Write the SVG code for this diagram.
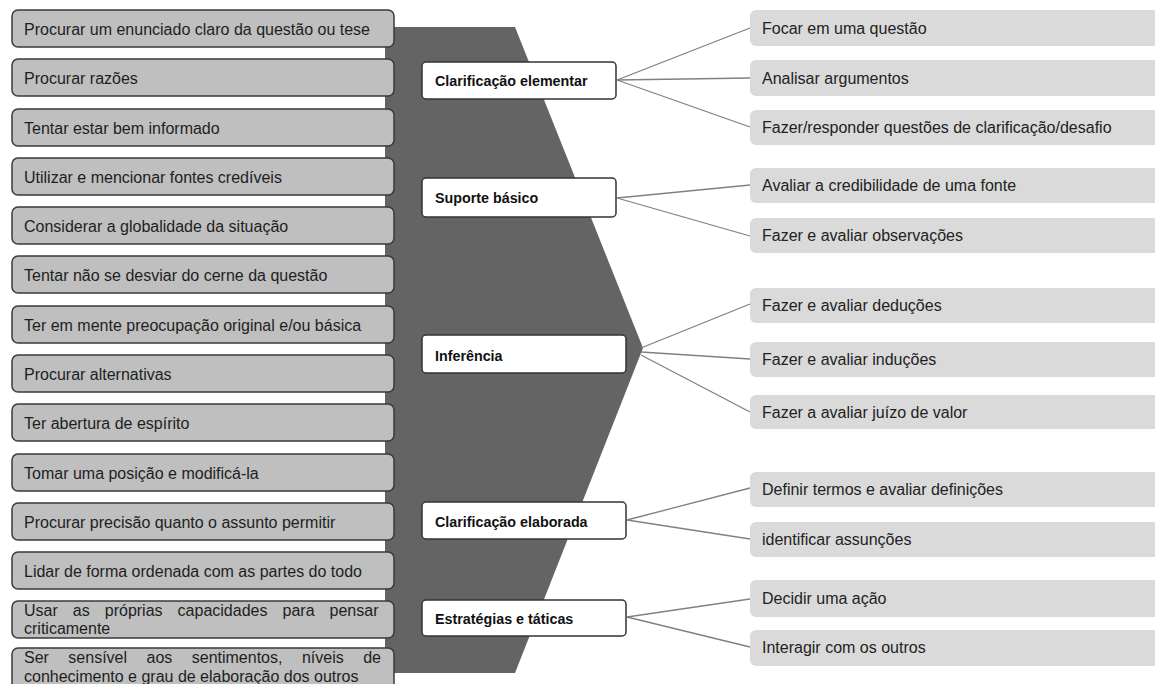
<svg xmlns="http://www.w3.org/2000/svg" width="1155" height="684" viewBox="0 0 1155 684">
<style>
.lb{fill:#bfbfbf;stroke:#3a3a3a;stroke-width:1.5}
.lt{font-family:"Liberation Sans",Arial,sans-serif;font-size:16px;fill:#1e1e1e}
.mb{fill:#ffffff;stroke:#333333;stroke-width:1.5}
.mt{font-family:"Liberation Sans",Arial,sans-serif;font-size:14.3px;font-weight:bold;fill:#111}
.rb{fill:#dadada}
.rt{font-family:"Liberation Sans",Arial,sans-serif;font-size:16px;fill:#222}
.cn{stroke:#808080;stroke-width:1.3;fill:none}
</style>
<rect width="1155" height="684" fill="#ffffff"/>
<polygon id="backdrop" points="385,27 515,27 643,348 515,673 385,673" fill="#646464"/>
<g id="connectors">
<line class="cn" x1="617" y1="80" x2="750" y2="28"/>
<line class="cn" x1="617" y1="80" x2="750" y2="78"/>
<line class="cn" x1="617" y1="80" x2="750" y2="127"/>
<line class="cn" x1="617" y1="198" x2="750" y2="185"/>
<line class="cn" x1="617" y1="198" x2="750" y2="236"/>
<line class="cn" x1="641" y1="348" x2="750" y2="304"/>
<line class="cn" x1="641" y1="352" x2="750" y2="359"/>
<line class="cn" x1="641" y1="355" x2="750" y2="412"/>
<line class="cn" x1="627" y1="520" x2="750" y2="488"/>
<line class="cn" x1="627" y1="520" x2="750" y2="539"/>
<line class="cn" x1="627" y1="617" x2="750" y2="599"/>
<line class="cn" x1="627" y1="617" x2="750" y2="647"/>
</g>
<g id="left0"><rect class="lb" x="12" y="10" width="382" height="37" rx="6"/><text class="lt" x="24" y="35">Procurar um enunciado claro da questão ou tese</text></g>
<g id="left1"><rect class="lb" x="12" y="59" width="382" height="37" rx="6"/><text class="lt" x="24" y="84">Procurar razões</text></g>
<g id="left2"><rect class="lb" x="12" y="109" width="382" height="37" rx="6"/><text class="lt" x="24" y="134">Tentar estar bem informado</text></g>
<g id="left3"><rect class="lb" x="12" y="158" width="382" height="37" rx="6"/><text class="lt" x="24" y="183">Utilizar e mencionar fontes credíveis</text></g>
<g id="left4"><rect class="lb" x="12" y="207" width="382" height="37" rx="6"/><text class="lt" x="24" y="232">Considerar a globalidade da situação</text></g>
<g id="left5"><rect class="lb" x="12" y="256" width="382" height="37" rx="6"/><text class="lt" x="24" y="281">Tentar não se desviar do cerne da questão</text></g>
<g id="left6"><rect class="lb" x="12" y="306" width="382" height="37" rx="6"/><text class="lt" x="24" y="331">Ter em mente preocupação original e/ou básica</text></g>
<g id="left7"><rect class="lb" x="12" y="355" width="382" height="37" rx="6"/><text class="lt" x="24" y="380">Procurar alternativas</text></g>
<g id="left8"><rect class="lb" x="12" y="404" width="382" height="37" rx="6"/><text class="lt" x="24" y="429">Ter abertura de espírito</text></g>
<g id="left9"><rect class="lb" x="12" y="454" width="382" height="37" rx="6"/><text class="lt" x="24" y="479">Tomar uma posição e modificá-la</text></g>
<g id="left10"><rect class="lb" x="12" y="503" width="382" height="37" rx="6"/><text class="lt" x="24" y="528">Procurar precisão quanto o assunto permitir</text></g>
<g id="left11"><rect class="lb" x="12" y="552" width="382" height="37" rx="6"/><text class="lt" x="24" y="577">Lidar de forma ordenada com as partes do todo</text></g>
<g id="left12"><rect class="lb" x="12" y="601" width="382" height="37" rx="6"/><text class="lt" x="24" y="616" word-spacing="10.6">Usar as próprias capacidades para pensar</text><text class="lt" x="24" y="634">criticamente</text></g>
<g id="left13"><rect class="lb" x="12" y="648" width="382" height="50" rx="6"/><text class="lt" x="24" y="663" word-spacing="15">Ser sensível aos sentimentos, níveis de</text><text class="lt" x="24" y="682">conhecimento e grau de elaboração dos outros</text></g>
<g id="mid0"><rect class="mb" x="422" y="62" width="194" height="37" rx="4"/><text class="mt" x="435" y="86">Clarificação elementar</text></g>
<g id="mid1"><rect class="mb" x="422" y="178" width="194" height="39" rx="4"/><text class="mt" x="435" y="203">Suporte básico</text></g>
<g id="mid2"><rect class="mb" x="422" y="335" width="204" height="38" rx="4"/><text class="mt" x="435" y="361">Inferência</text></g>
<g id="mid3"><rect class="mb" x="422" y="502" width="204" height="37" rx="4"/><text class="mt" x="435" y="527">Clarificação elaborada</text></g>
<g id="mid4"><rect class="mb" x="422" y="600" width="204" height="36" rx="4"/><text class="mt" x="435" y="624">Estratégias e táticas</text></g>
<g id="right0"><rect class="rb" x="750" y="10" width="412" height="36" rx="6"/><text class="rt" x="762" y="34">Focar em uma questão</text></g>
<g id="right1"><rect class="rb" x="750" y="60" width="412" height="36" rx="6"/><text class="rt" x="762" y="84">Analisar argumentos</text></g>
<g id="right2"><rect class="rb" x="750" y="110" width="412" height="35" rx="6"/><text class="rt" x="762" y="133">Fazer/responder questões de clarificação/desafio</text></g>
<g id="right3"><rect class="rb" x="750" y="168" width="412" height="35" rx="6"/><text class="rt" x="762" y="191">Avaliar a credibilidade de uma fonte</text></g>
<g id="right4"><rect class="rb" x="750" y="218" width="412" height="35" rx="6"/><text class="rt" x="762" y="241">Fazer e avaliar observações</text></g>
<g id="right5"><rect class="rb" x="750" y="288" width="412" height="35" rx="6"/><text class="rt" x="762" y="311">Fazer e avaliar deduções</text></g>
<g id="right6"><rect class="rb" x="750" y="342" width="412" height="35" rx="6"/><text class="rt" x="762" y="365">Fazer e avaliar induções</text></g>
<g id="right7"><rect class="rb" x="750" y="395" width="412" height="34" rx="6"/><text class="rt" x="762" y="418">Fazer a avaliar juízo de valor</text></g>
<g id="right8"><rect class="rb" x="750" y="472" width="412" height="35" rx="6"/><text class="rt" x="762" y="495">Definir termos e avaliar definições</text></g>
<g id="right9"><rect class="rb" x="750" y="522" width="412" height="35" rx="6"/><text class="rt" x="762" y="545">identificar assunções</text></g>
<g id="right10"><rect class="rb" x="750" y="580" width="412" height="37" rx="6"/><text class="rt" x="762" y="604">Decidir uma ação</text></g>
<g id="right11"><rect class="rb" x="750" y="630" width="412" height="36" rx="6"/><text class="rt" x="762" y="653">Interagir com os outros</text></g>
</svg>
